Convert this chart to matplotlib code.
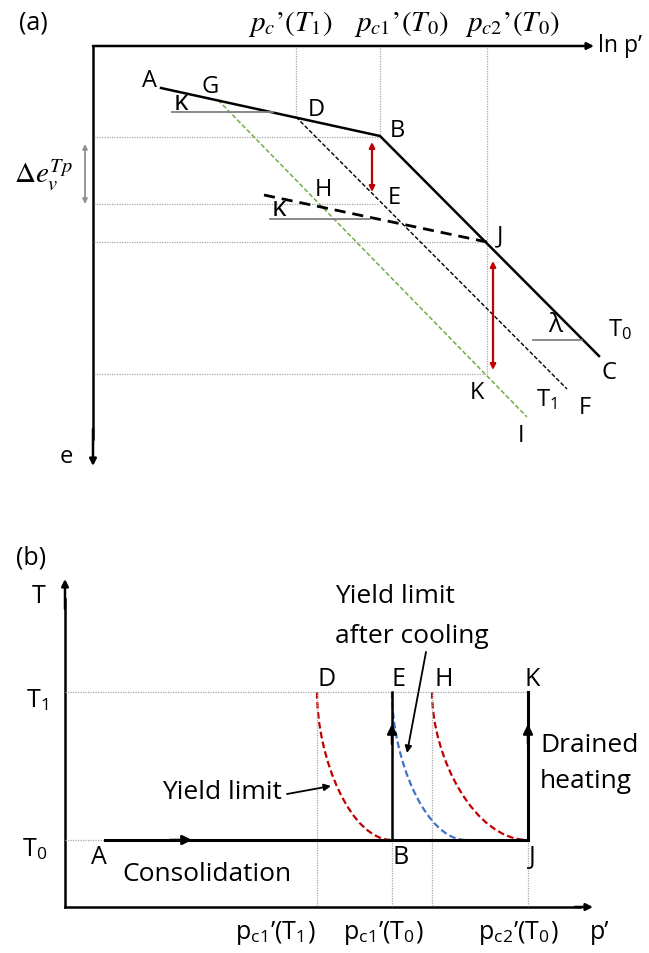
import matplotlib
matplotlib.use("Agg")
import matplotlib.pyplot as plt
from matplotlib.path import Path
from matplotlib.patches import PathPatch

plt.rcParams['font.family'] = ['Open Sans', 'DejaVu Sans']
plt.rcParams['mathtext.fontset'] = 'custom'
plt.rcParams['mathtext.rm'] = 'STIXGeneral'
plt.rcParams['mathtext.it'] = 'STIXGeneral:italic'
plt.rcParams['mathtext.sf'] = 'Open Sans'

# ---- panel (a): e - ln p' (canvas pixel coordinates) ----
ncl_x = [161, 380, 599]          # A -> B -> C, T0 line
ncl_y = [89, 137, 357]
t1_x = [296, 567]                # D -> F, T1 line
t1_y = [118, 390]
green_x = [218, 527]             # G -> I
green_y = [101, 418]
unload_x = [264, 487]            # dashed kappa line through H to J
unload_y = [196, 243]
vlines_a = [296, 380, 487]       # p'c(T1), p'c1(T0), p'c2(T0)
vline_ends_a = [118, 137, 375]
hlines_a = [138, 205, 243, 375]  # B, E, J, K levels
hline_ends_a = [380, 378, 487, 487]
top_labels = [r"$p_c\mathrm{’}(T_1)$", r"$p_{c1}\mathrm{’}(T_0)$", r"$p_{c2}\mathrm{’}(T_0)$"]
top_label_x = [290, 401, 512]
pt_labels_a = ["A", "G", "D", "B", "E", "H", "J", "K", "C", "F", "I"]
pt_lx_a = [150, 210, 316, 397, 394, 323, 500, 477, 609, 585, 521]
pt_ly_a = [81, 87, 110, 131, 198, 190, 236, 393, 373, 408, 436]

# ---- panel (b): T - p' ----
t_levels = [841, 693]            # T0, T1
yield_red1 = [317, 392]
yield_blue = [392, 466]
yield_red2 = [432, 528]
vlines_b = [317, 392, 432, 528]
vline_tops_b = [693, 841, 693, 841]
pt_labels_b = ["D", "E", "H", "K", "A", "B", "J"]
pt_lx_b = [327, 399, 444, 532, 99, 401, 532]
pt_ly_b = [680, 680, 680, 680, 858, 858, 858]
xtick_labels = [r"p$_\mathsf{c1}$’(T$_\mathsf{1}$)", r"p$_\mathsf{c1}$’(T$_\mathsf{0}$)",
                r"p$_\mathsf{c2}$’(T$_\mathsf{0}$)"]
xtick_x = [275, 383, 518]

fig = plt.figure(figsize=(6.49, 9.54), dpi=100)
ax = fig.add_axes([0, 0, 1, 1])
ax.set_xlim(0, 649)
ax.set_ylim(954, 0)
ax.axis('off')

dot = dict(color='#a6a6a6', lw=0.9, ls=(0, (1, 1)))
grey = '#808080'
red = '#c00000'
blue = '#4472c4'
green = '#70ad47'


def arrow(x0, y0, x1, y1, color='black', lw=1.8, style='-|>', ms=12):
    ax.annotate('', xy=(x1, y1), xytext=(x0, y0),
                arrowprops=dict(arrowstyle=style, color=color, lw=lw,
                                mutation_scale=ms, shrinkA=0, shrinkB=0))


# ---------------- (a) ----------------
ax.text(33, 23, "(a)", fontsize=18, ha='center', va='center')
ax.plot([93, 93], [47, 440], color='black', lw=1.8)
arrow(93, 430, 93, 467, ms=10)
arrow(93, 47, 594, 47, ms=10)
ax.text(598, 46, "ln p’", fontsize=16.5, ha='left', va='center')
ax.text(66, 457, "e", fontsize=17, ha='center', va='center')
for x, lab in zip(top_label_x, top_labels):
    ax.text(x, 24, lab, fontsize=21, ha='center', va='center')

for x, ye in zip(vlines_a, vline_ends_a):
    ax.plot([x, x], [49, ye], **dot)
for y, xe in zip(hlines_a, hline_ends_a):
    ax.plot([94, xe], [y, y], **dot)

ax.plot(green_x, green_y, color=green, lw=1.1, ls=(0, (3, 1.5)))
ax.plot(t1_x, t1_y, color='black', lw=1.0, ls=(0, (3, 1.5)))
ax.plot(unload_x, unload_y, color='black', lw=2.0, ls=(0, (4, 2.5)))
ax.plot(ncl_x, ncl_y, color='black', lw=1.8)

# slope markers
ax.plot([172, 273], [113, 113], color=grey, lw=1.3)
ax.text(181, 103, "κ", fontsize=20, ha='center', va='center')
ax.plot([270, 370], [220, 220], color=grey, lw=1.3)
ax.text(279, 209, "κ", fontsize=20, ha='center', va='center')
ax.plot([533, 582], [341, 341], color=grey, lw=1.3)
ax.text(555, 326, "λ", fontsize=19, ha='center', va='center')
ax.text(620, 331, r"T$_\mathsf{0}$", fontsize=17, ha='center', va='center')
ax.text(547, 401, r"T$_\mathsf{1}$", fontsize=17, ha='center', va='center')

ax.annotate('', xy=(372, 143), xytext=(372, 193),
            arrowprops=dict(arrowstyle='<|-|>', color=red, lw=1.6,
                            mutation_scale=8, shrinkA=0, shrinkB=0))
ax.annotate('', xy=(493, 262), xytext=(493, 371),
            arrowprops=dict(arrowstyle='<|-|>', color=red, lw=1.6,
                            mutation_scale=8, shrinkA=0, shrinkB=0))
ax.annotate('', xy=(85, 145), xytext=(85, 205),
            arrowprops=dict(arrowstyle='<|-|>', color='#909090', lw=1.3,
                            mutation_scale=7, shrinkA=0, shrinkB=0))
ax.text(43, 175, r"$\Delta e_v^{Tp}$", fontsize=21, ha='center', va='center')

for lab, x, y in zip(pt_labels_a, pt_lx_a, pt_ly_a):
    ax.text(x, y, lab, fontsize=17, ha='center', va='center')

# ---------------- (b) ----------------
ax.text(31, 558, "(b)", fontsize=18, ha='center', va='center')
ax.plot([65, 65], [908, 600], color='black', lw=1.8)
arrow(65, 610, 65, 580, ms=10)
ax.plot([65, 580], [908, 908], color='black', lw=1.8)
arrow(575, 908, 593, 908, ms=10)
ax.text(39, 597, "T", fontsize=18, ha='center', va='center')
ax.text(37, 701, r"T$_\mathsf{1}$", fontsize=18, ha='center', va='center')
ax.text(35, 850, r"T$_\mathsf{0}$", fontsize=18, ha='center', va='center')
ax.text(600, 933, "p’", fontsize=18, ha='center', va='center')
for x, lab in zip(xtick_x, xtick_labels):
    ax.text(x, 933, lab, fontsize=18, ha='center', va='center')

ax.plot([65, yield_red2[1]], [t_levels[1]] * 2, **dot)
ax.plot([65, 105], [t_levels[0]] * 2, **dot)
for x, yt in zip(vlines_b, vline_tops_b):
    ax.plot([x, x], [yt, 907], **dot)

# yield curves: quarter-ellipse shaped Bezier from (x0, T1) to (x1, T0)
k = 0.552
for (x0, x1), c in [(yield_red1, red), (yield_blue, blue), (yield_red2, red)]:
    y0, y1 = t_levels[1], t_levels[0]
    verts = [(x0, y0), (x0, y0 + (y1 - y0) * (1 - k)),
             (x1 - (x1 - x0) * k, y1), (x1, y1)]
    path = Path(verts, [Path.MOVETO, Path.CURVE4, Path.CURVE4, Path.CURVE4])
    ax.add_patch(PathPatch(path, fill=False, edgecolor=c, lw=1.6,
                           ls=(0, (3, 1.5))))

# stress paths
ax.plot([105, yield_red2[1]], [t_levels[0]] * 2, color='black', lw=2.2)
arrow(170, t_levels[0], 192, t_levels[0], ms=14)
ax.plot([yield_blue[0]] * 2, t_levels, color='black', lw=1.8)
ax.plot([yield_red2[1]] * 2, t_levels, color='black', lw=2.2)
arrow(yield_blue[0], 745, yield_blue[0], 725, ms=14)
arrow(yield_red2[1], 745, yield_red2[1], 725, ms=14)

for lab, x, y in zip(pt_labels_b, pt_lx_b, pt_ly_b):
    ax.text(x, y, lab, fontsize=18, ha='center', va='center')

ax.text(335, 597, "Yield limit", fontsize=19, ha='left', va='center')
ax.text(335, 637, "after cooling", fontsize=19, ha='left', va='center')
ax.annotate('', xy=(407, 754), xytext=(426, 653),
            arrowprops=dict(arrowstyle='-|>', color='black', lw=1.3,
                            mutation_scale=10, shrinkA=0, shrinkB=0))
ax.text(222, 793, "Yield limit", fontsize=19, ha='center', va='center')
ax.annotate('', xy=(331, 787), xytext=(287, 795),
            arrowprops=dict(arrowstyle='-|>', color='black', lw=1.3,
                            mutation_scale=10, shrinkA=0, shrinkB=0))
ax.text(540, 746, "Drained", fontsize=19, ha='left', va='center')
ax.text(540, 782, "heating", fontsize=19, ha='left', va='center')
ax.text(207, 875, "Consolidation", fontsize=19, ha='center', va='center')

fig.savefig("out.png", dpi=100)
